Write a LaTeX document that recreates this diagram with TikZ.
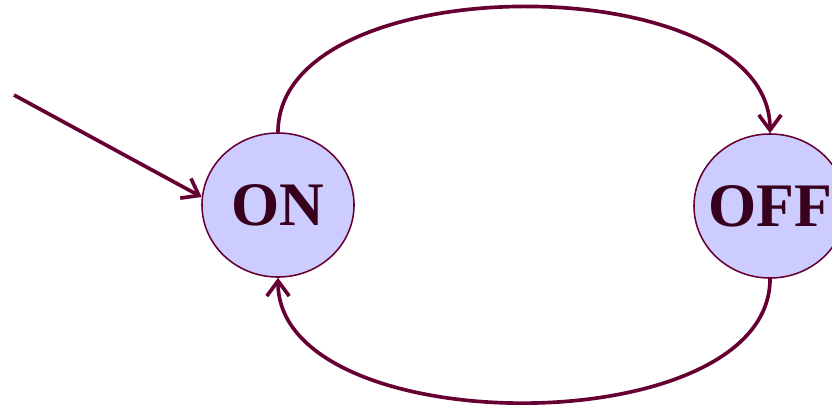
\documentclass[tikz,border=0pt]{standalone}
\usepackage{fontspec}
\newfontfamily\statefont{Liberation Serif}[BoldFont={Liberation Serif Bold}]
\usetikzlibrary{arrows.meta,shapes.geometric}
\definecolor{plum}{RGB}{102,0,51}
\definecolor{lilac}{RGB}{204,204,255}
\definecolor{inkplum}{RGB}{55,0,28}
\tikzset{
  >={Straight Barb[length=3.8mm,width=5.6mm]},
  state/.style={ellipse,draw=plum,fill=lilac,line width=1.1pt,
    minimum width=38mm,minimum height=36mm,inner xsep=-10mm,inner ysep=0pt,
    font=\statefont\fontsize{44}{50}\selectfont\bfseries,text=inkplum},
  trans/.style={->,line width=2.6pt,draw=plum},
}
\begin{document}
\begin{tikzpicture}[x=0.025cm,y=-0.025cm]
  \useasboundingbox (0,0) rectangle (832,404);
  \node[state] (on) at (278,205) {ON};
  \node[state] (off) at (770,206) {OFF};
  \coordinate (start) at (14,95);
  % initial arrow
  \draw[trans] (start) -- (on.174);
  % transitions
  \draw[trans] (on.north) to[out=90,in=90,looseness=0.87] (off.north);
  \draw[trans] (off.south) to[out=-90,in=-90,looseness=0.86] (on.south);
\end{tikzpicture}
\end{document}
